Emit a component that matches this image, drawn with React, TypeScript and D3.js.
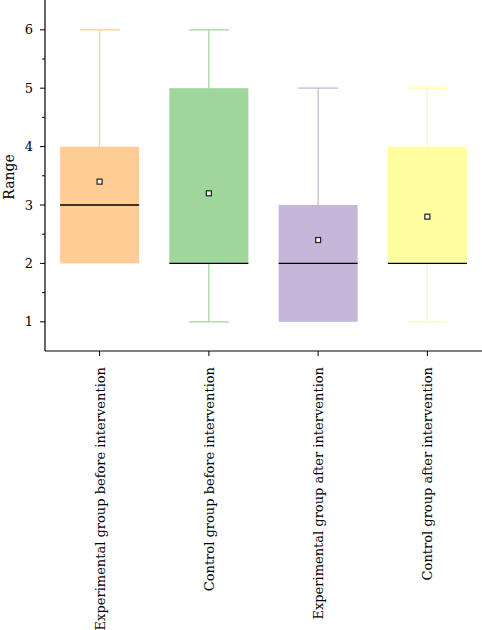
import React from "react";
import * as d3 from "d3";

const categories = [
  "Experimental group before intervention",
  "Control group before intervention",
  "Experimental group after intervention",
  "Control group after intervention",
];
const minValues = [2, 1, 1, 1];
const q1Values = [2, 2, 1, 2];
const medianValues = [3, 2, 2, 2];
const q3Values = [4, 5, 3, 4];
const maxValues = [6, 6, 5, 5];
const meanValues = [3.4, 3.2, 2.4, 2.8];
const colors = ["#FECC95", "#9ED69C", "#C5B5D9", "#FFFFA0"];
const yTicks = [1, 2, 3, 4, 5, 6];
const yMinorTicks = [1.5, 2.5, 3.5, 4.5, 5.5];

const W = 482;
const H = 630;
const left = 45;
const bottom = 351;
const font = "'DejaVu Serif', serif";

export default function App() {
  const x = d3.scaleBand<string>().domain(categories).range([left, W]).padding(0);
  const y = d3.scaleLinear().domain([0.5, 6.5]).range([bottom, 0.6]);
  const boxW = 79;
  const capW = 40;
  return (
    <svg width={W} height={H} style={{ position: "absolute", left: 0, top: 0, background: "#fff" }}>
      {categories.map((c, i) => {
        const cx = x(c)! + x.bandwidth() / 2;
        const col = colors[i];
        return (
          <g key={c}>
            {maxValues[i] > q3Values[i] && (
              <g>
                <line x1={cx} x2={cx} y1={y(maxValues[i])} y2={y(q3Values[i])} stroke={col} strokeWidth={1.2} />
                <line x1={cx - capW / 2} x2={cx + capW / 2} y1={y(maxValues[i])} y2={y(maxValues[i])} stroke={col} strokeWidth={1.2} />
              </g>
            )}
            {minValues[i] < q1Values[i] && (
              <g>
                <line x1={cx} x2={cx} y1={y(minValues[i])} y2={y(q1Values[i])} stroke={col} strokeWidth={1.2} />
                <line x1={cx - capW / 2} x2={cx + capW / 2} y1={y(minValues[i])} y2={y(minValues[i])} stroke={col} strokeWidth={1.2} />
              </g>
            )}
            <rect x={cx - boxW / 2} y={y(q3Values[i])} width={boxW} height={y(q1Values[i]) - y(q3Values[i])} fill={col} />
            <line x1={cx - boxW / 2} x2={cx + boxW / 2} y1={y(medianValues[i])} y2={y(medianValues[i])} stroke="#000" strokeWidth={1.4} />
            <rect x={cx - 2.5} y={y(meanValues[i]) - 2.5} width={5} height={5} fill="#f5f0ea" stroke="#222" strokeWidth={1.2} />
          </g>
        );
      })}
      {/* y axis */}
      <line x1={left} x2={left} y1={0} y2={bottom} stroke="#000" strokeWidth={1.2} />
      {yTicks.map((t) => (
        <g key={t}>
          <line x1={left - 5} x2={left} y1={y(t)} y2={y(t)} stroke="#000" strokeWidth={1} />
          <text x={left - 12} y={y(t)} dy="0.35em" textAnchor="end" fontFamily={font} fontSize={13}>
            {t}
          </text>
        </g>
      ))}
      {yMinorTicks.map((t) => (
        <line key={t} x1={left - 3} x2={left} y1={y(t)} y2={y(t)} stroke="#000" strokeWidth={1} />
      ))}
      <text transform={`translate(14,177) rotate(-90)`} textAnchor="middle" fontFamily={font} fontSize={14}>
        Range
      </text>
      {/* x axis */}
      <line x1={left} x2={W} y1={bottom} y2={bottom} stroke="#000" strokeWidth={1.2} />
      {categories.map((c) => {
        const cx = x(c)! + x.bandwidth() / 2;
        return (
          <g key={c}>
            <line x1={cx} x2={cx} y1={bottom} y2={bottom + 5} stroke="#000" strokeWidth={1} />
            <text transform={`translate(${cx + 5},${bottom + 16}) rotate(-90)`} textAnchor="end" fontFamily={font} fontSize={13}>
              {c}
            </text>
          </g>
        );
      })}
    </svg>
  );
}
